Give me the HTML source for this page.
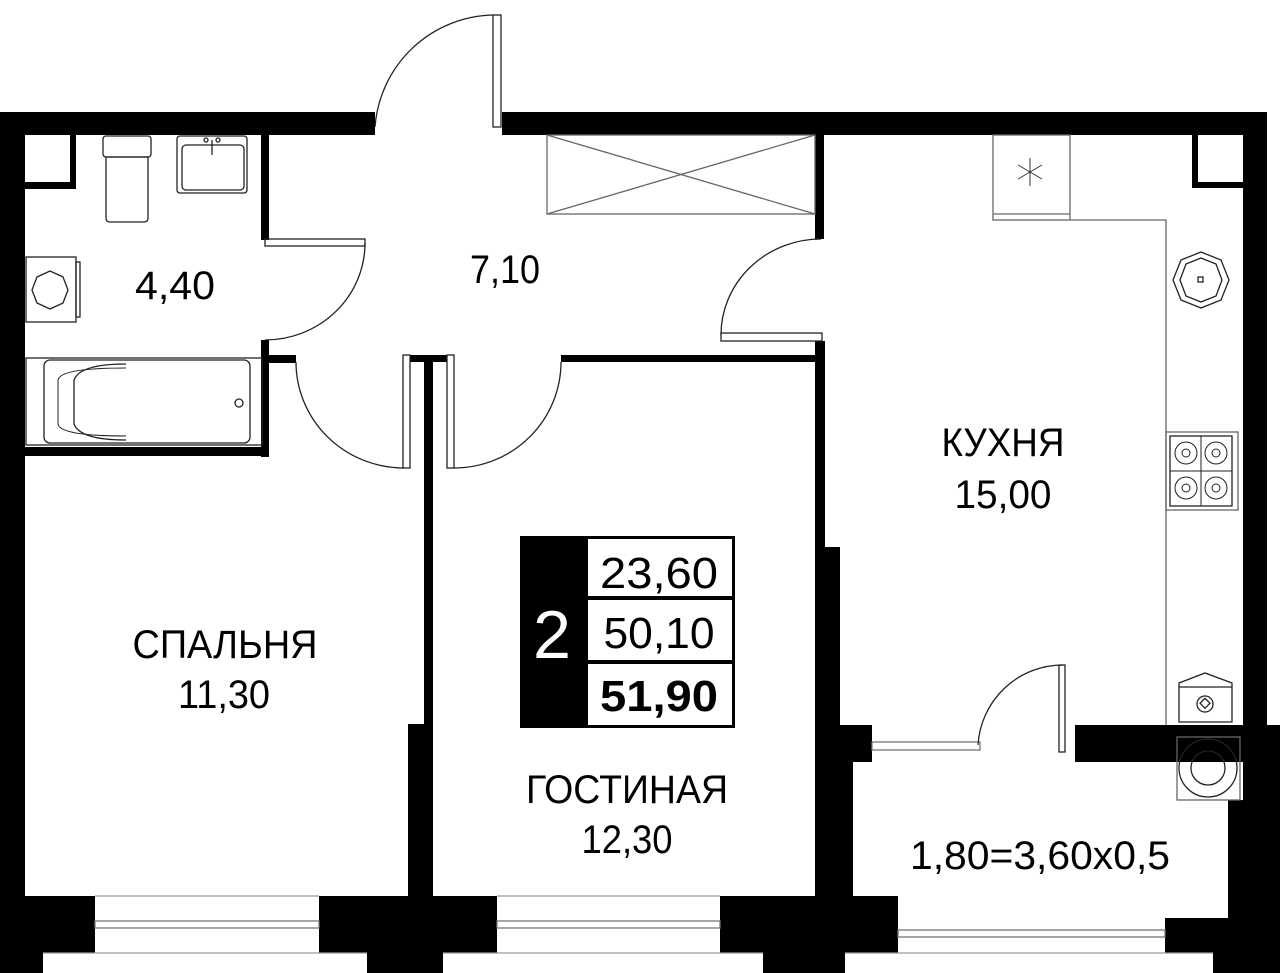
<!DOCTYPE html>
<html><head><meta charset="utf-8"><style>html,body{margin:0;padding:0;background:#fff}svg{display:block}</style></head>
<body>
<svg width="1280" height="973" viewBox="0 0 1280 973" xmlns="http://www.w3.org/2000/svg" font-family="'Liberation Sans', sans-serif">
<rect width="1280" height="973" fill="#fff"/>
<g fill="#000">
<rect x="0" y="112" width="375" height="23"/>
<rect x="502" y="112" width="765" height="23"/>
<rect x="0" y="112" width="25" height="841"/>
<rect x="0" y="953" width="43" height="20"/>
<rect x="1243" y="112" width="24" height="613"/>
<rect x="1243" y="725" width="37" height="228"/>
<rect x="1228" y="800" width="52" height="118"/>
<rect x="1165" y="918" width="115" height="35"/>
<rect x="1213" y="953" width="67" height="20"/>
<rect x="70" y="135" width="6" height="54"/>
<rect x="25" y="182" width="51" height="7"/>
<rect x="1192" y="135" width="6" height="53"/>
<rect x="1192" y="182" width="51" height="6"/>
<rect x="261" y="135" width="8" height="105"/>
<rect x="261" y="340" width="8" height="117"/>
<rect x="25" y="447" width="244" height="9"/>
<rect x="269" y="355" width="27" height="8"/>
<rect x="410" y="355" width="37" height="7"/>
<rect x="424" y="355" width="9" height="541"/>
<rect x="408" y="724" width="25" height="172"/>
<rect x="561" y="355" width="254" height="7"/>
<rect x="815" y="135" width="9" height="104"/>
<rect x="815" y="341" width="10" height="206"/>
<rect x="815" y="547" width="25" height="178"/>
<rect x="815" y="725" width="57" height="37"/>
<rect x="815" y="762" width="38" height="191"/>
<rect x="1075" y="725" width="170" height="37"/>
<rect x="0" y="896" width="95" height="57"/>
<rect x="319" y="896" width="178" height="57"/>
<rect x="720" y="896" width="178" height="57"/>
<rect x="853" y="918" width="45" height="35"/>
<rect x="367" y="953" width="76" height="20"/>
<rect x="763" y="953" width="82" height="20"/>
</g>
<g fill="none" stroke="#222" stroke-width="1.3">
<rect x="95" y="921" width="224" height="7" stroke="#777"/>
<rect x="497" y="921" width="223" height="7" stroke="#777"/>
<rect x="898" y="930" width="267" height="7" stroke="#777"/>
<line x1="95" y1="896" x2="319" y2="896" stroke="#999"/>
<line x1="497" y1="896" x2="720" y2="896" stroke="#999"/>
<line x1="43" y1="953" x2="367" y2="953" stroke="#999"/>
<line x1="443" y1="953" x2="763" y2="953" stroke="#999"/>
<line x1="845" y1="953" x2="1213" y2="953" stroke="#999"/>
<rect x="493" y="15" width="8" height="112"/>
<path d="M493 15 A121 121 0 0 0 375 127"/>
<rect x="265" y="239" width="100" height="7"/>
<path d="M365 243 A100 97 0 0 1 265 340"/>
<rect x="403" y="355" width="7" height="113"/>
<path d="M296 362 A108 106 0 0 0 404 468"/>
<rect x="447" y="355" width="7" height="113"/>
<path d="M454 468 A107 106 0 0 0 561 362"/>
<rect x="721" y="333" width="101" height="8"/>
<path d="M821 239 A100 96 0 0 0 721 335"/>
<rect x="872" y="742" width="108" height="8" stroke="#777"/>
<rect x="1059" y="665" width="6" height="87"/>
<path d="M1063 665 A85 85 0 0 0 978 745"/>
<rect x="103" y="136" width="48" height="21" rx="3"/>
<path d="M106 157 L148 157 L148 218 Q148 222 144 222 L110 222 Q106 222 106 218 Z"/>
<rect x="177" y="136" width="70" height="57" rx="3"/>
<rect x="182" y="145" width="62" height="45" rx="4"/>
<line x1="212" y1="140" x2="212" y2="155"/><circle cx="206" cy="140" r="2"/><circle cx="218" cy="140" r="2"/>
<rect x="26" y="257" width="50" height="65"/>
<rect x="76" y="262" width="4" height="55"/>
<polygon points="50,271 63,277 68,290 63,303 50,309 37,303 32,290 37,277"/>
<rect x="26" y="358" width="236" height="87"/>
<rect x="44" y="360" width="206" height="83" rx="6"/>
<path d="M126 364 Q80 364 74 380 L74 424 Q80 440 126 440" />
<path d="M126 368 Q60 368 58 380 L58 424 Q60 436 126 436" stroke-width="1"/>
<circle cx="239" cy="403" r="4"/>
<rect x="547" y="135" width="268" height="79" stroke="#666"/>
<line x1="547" y1="214" x2="815" y2="135" stroke="#666"/>
<line x1="547" y1="135" x2="815" y2="214" stroke="#666"/>
<rect x="993" y="135" width="77" height="85" stroke="#666"/>
<line x1="993" y1="214" x2="1070" y2="214" stroke="#666"/>
<g stroke="#333" stroke-width="1"><line x1="1030" y1="158" x2="1030" y2="186"/><line x1="1018" y1="165" x2="1042" y2="179"/><line x1="1018" y1="179" x2="1042" y2="165"/></g>
<polyline points="1070,220 1166,220 1166,725" stroke="#666"/>
<polygon points="1201,252 1221,260 1229,280 1221,300 1201,308 1181,300 1173,280 1181,260"/>
<polygon points="1201,258 1216,264 1222,280 1216,296 1201,302 1186,296 1180,280 1186,264"/>
<rect x="1198" y="277" width="5" height="5"/>
<rect x="1166" y="432" width="72" height="78" stroke="#666"/>
<rect x="1170" y="436" width="62" height="70"/>
<g stroke-width="1">
<circle cx="1186" cy="453" r="11"/><circle cx="1186" cy="453" r="4"/>
<circle cx="1216" cy="453" r="11"/><circle cx="1216" cy="453" r="4"/>
<circle cx="1186" cy="488" r="11"/><circle cx="1186" cy="488" r="4"/>
<circle cx="1216" cy="488" r="11"/><circle cx="1216" cy="488" r="4"/>
<line x1="1201" y1="436" x2="1201" y2="506"/><line x1="1170" y1="471" x2="1232" y2="471"/>
</g>
<path d="M1179 683 L1205 673 L1232 683 L1232 722 L1179 722 Z"/>
<line x1="1179" y1="687" x2="1232" y2="687"/>
<circle cx="1205" cy="704" r="8"/><rect x="1201" y="700" width="7" height="7" transform="rotate(45 1205 704)"/>
<rect x="1177" y="737" width="63" height="63" stroke="#666"/>
<circle cx="1208" cy="768" r="29"/>
<circle cx="1208" cy="768" r="17"/>
</g>
<rect x="520" y="536" width="65" height="192" fill="#000"/>
<rect x="585" y="536" width="150" height="192" fill="#000"/>
<rect x="588" y="539" width="144" height="57" fill="#fff"/>
<rect x="588" y="600" width="144" height="60" fill="#fff"/>
<rect x="588" y="664" width="144" height="61" fill="#fff"/>
<text x="552" y="658" font-size="68" fill="#fff" text-anchor="middle" textLength="38" lengthAdjust="spacingAndGlyphs">2</text>
<g font-size="44" fill="#000" text-anchor="middle">
<text x="659" y="588" textLength="118" lengthAdjust="spacingAndGlyphs">23,60</text>
<text x="659" y="648" textLength="111" lengthAdjust="spacingAndGlyphs">50,10</text>
<text x="659" y="711" font-weight="bold" textLength="118" lengthAdjust="spacingAndGlyphs">51,90</text>
</g>
<g font-size="40" fill="#000" text-anchor="middle">
<text x="175" y="299" textLength="80" lengthAdjust="spacingAndGlyphs">4,40</text>
<text x="505" y="283" textLength="70" lengthAdjust="spacingAndGlyphs">7,10</text>
<text x="1003" y="456" textLength="123" lengthAdjust="spacingAndGlyphs">КУХНЯ</text>
<text x="1003" y="508" textLength="97" lengthAdjust="spacingAndGlyphs">15,00</text>
<text x="225" y="658" textLength="185" lengthAdjust="spacingAndGlyphs">СПАЛЬНЯ</text>
<text x="224" y="708" textLength="92" lengthAdjust="spacingAndGlyphs">11,30</text>
<text x="627" y="803" textLength="202" lengthAdjust="spacingAndGlyphs">ГОСТИНАЯ</text>
<text x="627" y="853" textLength="91" lengthAdjust="spacingAndGlyphs">12,30</text>
<text x="1040" y="869" textLength="260" lengthAdjust="spacingAndGlyphs">1,80=3,60x0,5</text>
</g>
</svg>
</body></html>
